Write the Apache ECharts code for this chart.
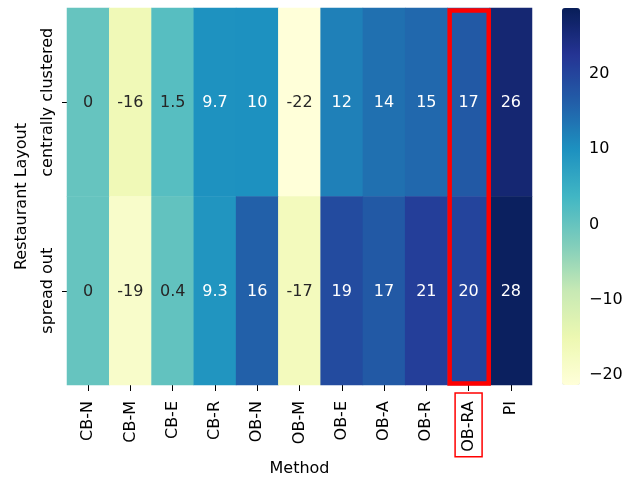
<!DOCTYPE html>
<html>
<head>
<meta charset="utf-8">
<script src="https://cdn.jsdelivr.net/npm/echarts@6/dist/echarts.min.js"></script>
<style>
  html, body { margin: 0; padding: 0; background: #fff; }
  #chart { width: 635px; height: 477px; }
</style>
</head>
<body>
<div id="chart"></div>
<script>
// Methods along the x axis, restaurant layouts along the y axis
const methods = ['CB-N', 'CB-M', 'CB-E', 'CB-R', 'OB-N', 'OB-M', 'OB-E', 'OB-A', 'OB-R', 'OB-RA', 'PI'];
const layouts = ['centrally clustered', 'spread out'];

// Cell values per layout, in the order of `methods`
const clustered = [0, -16, 1.5, 9.7, 10, -22, 12, 14, 15, 17, 26];
const spreadOut = [0, -19, 0.4, 9.3, 16, -17, 19, 17, 21, 20, 28];

// Colour scale range and colour-bar ticks
const scaleMin = -21.3;
const scaleMax = 28.7;
const colorTicks = [-20, -10, 0, 10, 20];

// Method column that gets outlined in red
const highlight = 'OB-RA';

const FONT = 'DejaVu Sans';
const YLGNBU = ['#ffffd9', '#edf8b1', '#c7e9b4', '#7fcdbb', '#41b6c4',
                '#1d91c0', '#225ea8', '#253494', '#081d58'];

const cells = [];
[clustered, spreadOut].forEach((row, r) => {
  row.forEach((v, c) => cells.push({
    value: [c, r, v],
    // dark annotation on pale cells, white on dark cells
    label: { color: v < 5 ? '#262626' : '#ffffff' }
  }));
});

const chart = echarts.init(document.getElementById('chart'), null, { renderer: 'canvas' });

chart.setOption({
  animation: false,
  backgroundColor: '#ffffff',
  textStyle: { fontFamily: FONT },
  grid: [
    { left: 67, right: 103, top: 8, bottom: 92, containLabel: false, outerBoundsMode: 'none' },
    { left: 562, width: 18, top: 8, height: 377, containLabel: false, outerBoundsMode: 'none' }
  ],
  xAxis: [
    {
      type: 'category',
      gridIndex: 0,
      data: methods,
      name: 'Method',
      nameLocation: 'middle',
      nameGap: 76,
      nameMoveOverlap: false,
      nameTextStyle: { fontFamily: FONT, fontSize: 16, color: '#000' },
      axisLine: { show: false },
      axisTick: { show: true, alignWithLabel: true, length: 6, lineStyle: { color: '#000', width: 1 } },
      axisLabel: {
        interval: 0,
        rotate: 90,
        margin: 8,
        fontFamily: FONT,
        fontSize: 16,
        color: '#000',
        formatter: v => v === highlight ? '{hl|' + v + '}' : '{n|' + v + '}',
        rich: {
          n: { fontFamily: FONT, fontSize: 16, color: '#000', lineHeight: 18, padding: [5.5, 8, 5.5, 5] },
          hl: { fontFamily: FONT, fontSize: 16, color: '#000', lineHeight: 18, padding: [5.5, 8, 5.5, 5],
                borderColor: '#ff0000', borderWidth: 1.5 }
        }
      },
      splitLine: { show: false },
      splitArea: { show: false }
    },
    {
      type: 'value',
      gridIndex: 1,
      show: false,
      min: 0,
      max: 1
    }
  ],
  yAxis: [
    {
      type: 'category',
      gridIndex: 0,
      data: layouts,
      inverse: true,
      name: 'Restaurant Layout',
      nameLocation: 'middle',
      nameGap: 37,
      nameRotate: 90,
      nameMoveOverlap: false,
      nameTextStyle: { fontFamily: FONT, fontSize: 16, color: '#000' },
      axisLine: { show: false },
      axisTick: { show: true, alignWithLabel: true, length: 5, lineStyle: { color: '#000', width: 1 } },
      axisLabel: {
        interval: 0,
        rotate: 90,
        margin: 11,
        fontFamily: FONT,
        fontSize: 16,
        color: '#000'
      },
      splitLine: { show: false },
      splitArea: { show: false }
    },
    {
      type: 'value',
      gridIndex: 1,
      position: 'right',
      min: scaleMin,
      max: scaleMax,
      axisLine: { show: false },
      splitLine: { show: false },
      axisTick: { show: true, length: 6, customValues: colorTicks, lineStyle: { color: '#000', width: 1 } },
      axisLabel: {
        show: true,
        margin: 9,
        customValues: colorTicks,
        fontFamily: FONT,
        fontSize: 16,
        color: '#000',
        formatter: v => String(v).replace('-', '\u2212')
      }
    }
  ],
  visualMap: {
    type: 'continuous',
    seriesIndex: 0,
    min: scaleMin,
    max: scaleMax,
    calculable: false,
    hoverLink: false,
    orient: 'vertical',
    left: 562,
    top: 8,
    padding: 0,
    itemWidth: 18,
    itemHeight: 377,
    text: null,
    showLabel: false,
    inRange: { color: YLGNBU }
  },
  series: [
    {
      type: 'heatmap',
      xAxisIndex: 0,
      yAxisIndex: 0,
      data: cells,
      itemStyle: { borderWidth: 0 },
      emphasis: { disabled: true },
      label: {
        show: true,
        fontFamily: FONT,
        fontSize: 16,
        offset: [0, 1],
        formatter: p => String(p.value[2])
      }
    }
  ]
});

// Red outline around the highlighted method column
const colIdx = methods.indexOf(highlight);
const p0 = chart.convertToPixel({ xAxisIndex: 0, yAxisIndex: 0 }, [colIdx, 0]);
const p1 = chart.convertToPixel({ xAxisIndex: 0, yAxisIndex: 0 }, [colIdx, 1]);
const pNext = chart.convertToPixel({ xAxisIndex: 0, yAxisIndex: 0 }, [colIdx + 1, 0]);
const cellW = pNext[0] - p0[0];
const cellH = p1[1] - p0[1];
const colLeft = p0[0] - cellW / 2;
const colTop = p0[1] - cellH / 2;
chart.setOption({
  graphic: [{
    type: 'rect',
    silent: true,
    z: 100,
    shape: { x: colLeft + 2.2, y: colTop + 2.4, width: cellW - 3.2, height: cellH * 2 - 3.8 },
    style: { fill: 'none', stroke: '#ff0000', lineWidth: 4.5 }
  }]
});
</script>
</body>
</html>
